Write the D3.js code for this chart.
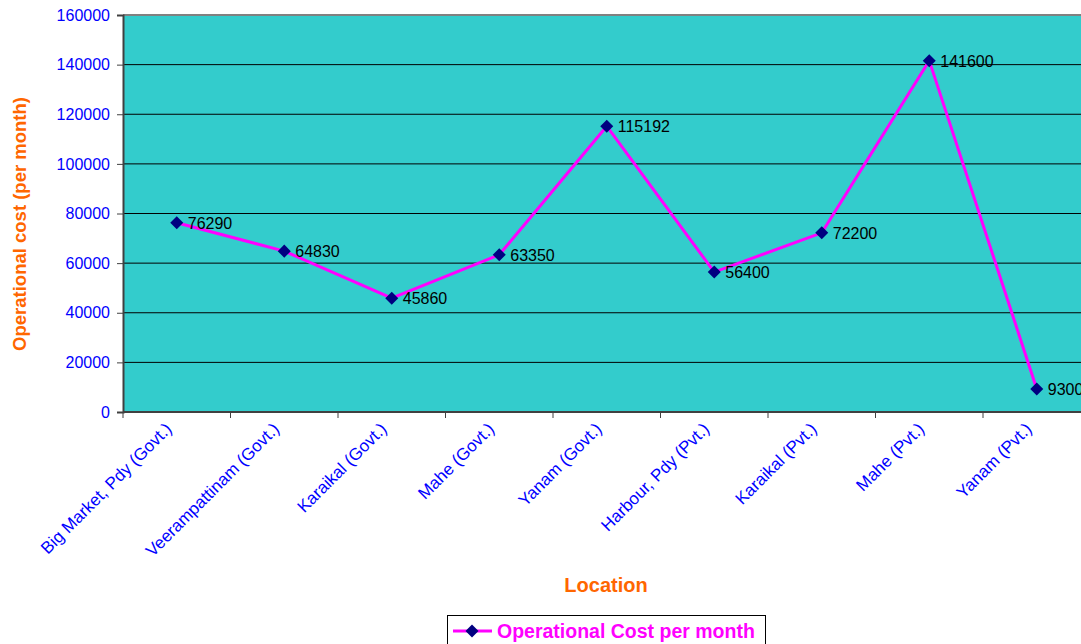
<!DOCTYPE html>
<html><head><meta charset="utf-8">
<script src="https://cdn.jsdelivr.net/npm/d3@7/dist/d3.min.js"></script>
<style>body{margin:0;background:#fff;}svg{display:block;font-family:"Liberation Sans",Arial,sans-serif;}</style>
</head><body>
<svg id="c" width="1081" height="644"></svg>
<script>
const categories = ["Big Market, Pdy (Govt.)","Veerampattinam (Govt.)","Karaikal (Govt.)","Mahe (Govt.)","Yanam (Govt.)","Harbour, Pdy (Pvt.)","Karaikal (Pvt.)","Mahe (Pvt.)","Yanam (Pvt.)"];
const values = [76290,64830,45860,63350,115192,56400,72200,141600,9300];
const yTicks = [0,20000,40000,60000,80000,100000,120000,140000,160000];
const seriesName = "Operational Cost per month";

const svg = d3.select("#c");
const L = 123, T = 15, B = 412, R = 123 + 9*107.5;
const x = d3.scaleBand().domain(categories).range([L, R]);
const y = d3.scaleLinear().domain([0,160000]).range([B, T]);

svg.append("rect").attr("x",L).attr("y",T).attr("width",R-L).attr("height",B-T).attr("fill","#33CCCC");
svg.append("g").selectAll("line").data(yTicks.filter(d=>d>0 && d<160000)).join("line")
  .attr("x1",L).attr("x2",R).attr("y1",d=>y(d)).attr("y2",d=>y(d)).attr("stroke","#000").attr("stroke-width",1);
svg.append("line").attr("x1",L).attr("x2",R).attr("y1",T).attr("y2",T).attr("stroke","#808080").attr("stroke-width",2);

const ya = svg.append("g").attr("transform",`translate(${L},0)`)
  .call(d3.axisLeft(y).tickValues(yTicks).tickSize(6).tickPadding(7).tickFormat(d3.format("d")));
ya.select(".domain").attr("stroke","#404040").attr("stroke-width",2);
ya.selectAll(".tick line").attr("stroke","#404040");
ya.selectAll("text").attr("fill","#0000FF").attr("font-size","16px").attr("font-family","Liberation Sans, Arial, sans-serif");

const xa = svg.append("g").attr("transform",`translate(0,${B})`);
xa.append("line").attr("x1",L).attr("x2",R).attr("stroke","#404040").attr("stroke-width",2);
xa.selectAll(".xt").data(d3.range(categories.length+1)).join("line")
  .attr("x1",i=>L+i*x.bandwidth()).attr("x2",i=>L+i*x.bandwidth()).attr("y1",0).attr("y2",6).attr("stroke","#404040");
xa.selectAll(".xl").data(categories).join("text")
  .attr("transform",d=>`translate(${x(d)+x.bandwidth()/2-4},${18}) rotate(-45)`)
  .attr("text-anchor","end").attr("fill","#0000FF").attr("font-size","17px").text(d=>d);

const cx = d => x(d)+x.bandwidth()/2;
const diamond = d3.symbol(d3.symbolSquare, 85);
svg.append("path").datum(categories.map((c,i)=>[cx(c),y(values[i])]))
  .attr("d",d3.line()).attr("fill","none").attr("stroke","#FF00FF").attr("stroke-width",3);
svg.append("g").selectAll("path").data(categories).join("path")
  .attr("d",diamond)
  .attr("transform",(c,i)=>`translate(${cx(c)},${y(values[i])}) rotate(45)`)
  .attr("fill","#000080");
svg.append("g").selectAll("text").data(categories).join("text")
  .attr("x",c=>cx(c)+11).attr("y",(c,i)=>y(values[i])+6)
  .attr("font-size","16px").attr("fill","#000").text((c,i)=>values[i]);

svg.append("text").attr("x",606).attr("y",592).attr("text-anchor","middle")
  .attr("fill","#FF6600").attr("font-weight","bold").attr("font-size","20px").text("Location");
svg.append("text").attr("transform","translate(26,224) rotate(-90)").attr("text-anchor","middle")
  .attr("fill","#FF6600").attr("font-weight","bold").attr("font-size","18.5px").text("Operational cost (per month)");

const lg = svg.append("g");
lg.append("rect").attr("x",447.5).attr("y",615.5).attr("width",318).attr("height",40).attr("fill","#fff").attr("stroke","#000");
lg.append("line").attr("x1",453).attr("x2",492).attr("y1",631).attr("y2",631).attr("stroke","#FF00FF").attr("stroke-width",3);
lg.append("path").attr("d",diamond).attr("transform","translate(472,631) rotate(45)").attr("fill","#000080");
lg.append("text").attr("x",497).attr("y",638).attr("fill","#FF00FF").attr("font-weight","bold").attr("font-size","19.5px").text(seriesName);
</script>
</body></html>
